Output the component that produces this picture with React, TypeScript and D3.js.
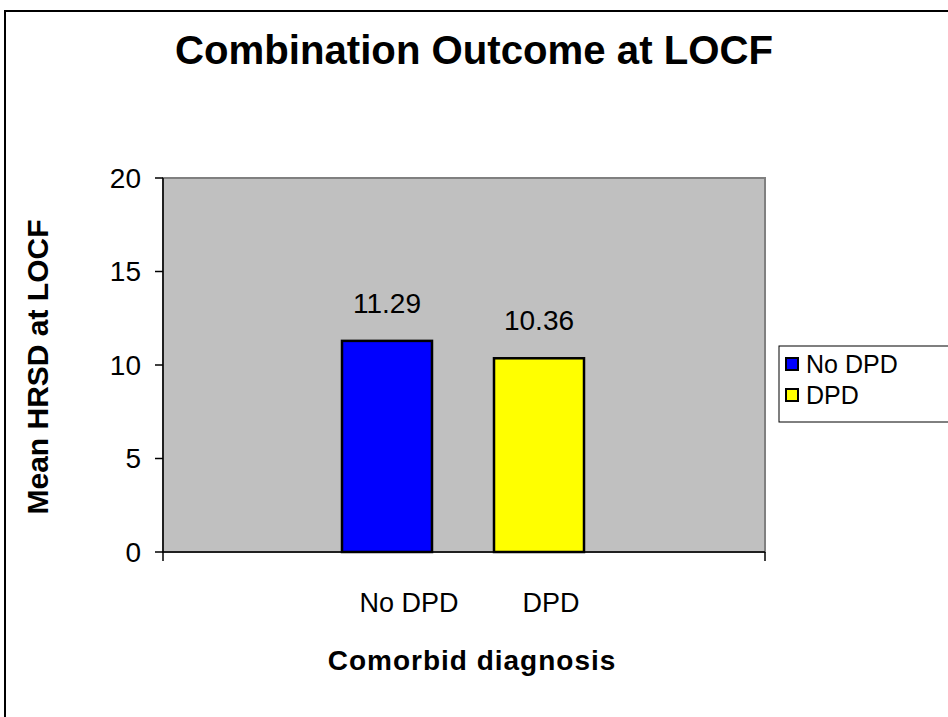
import React from "react";
import * as d3 from "d3";

const categories = ["No DPD", "DPD"];
const values = [11.29, 10.36];
const colors = ["#0000FF", "#FFFF00"];
const yTicks = [0, 5, 10, 15, 20];
const title = "Combination Outcome at LOCF";
const xTitle = "Comorbid diagnosis";
const yTitle = "Mean HRSD at LOCF";

const W = 948;
const H = 717;
const plot = { left: 163, right: 765, top: 178, bottom: 552 };
const font = "Arial, 'Liberation Sans', sans-serif";

export default function App() {
  const y = d3.scaleLinear().domain([0, 20]).range([plot.bottom, plot.top]);
  const x = d3.scalePoint<string>().domain(categories).range([387, 539]);
  const labelX = d3.scalePoint<string>().domain(categories).range([409, 551]);
  const barW = 90;

  return (
    <svg
      width={W}
      height={H}
      style={{ position: "absolute", left: 0, top: 0, background: "#fff" }}
      fontFamily={font}
    >
      <rect x={0} y={0} width={W} height={H} fill="#fff" />
      <rect x={5} y={11} width={W + 20} height={H + 20} fill="none" stroke="#000" strokeWidth={2} />
      <text x={474} y={64} textAnchor="middle" fontSize={40} fontWeight="bold" textLength={598} lengthAdjust="spacingAndGlyphs">
        {title}
      </text>
      <rect
        x={plot.left}
        y={plot.top}
        width={plot.right - plot.left}
        height={plot.bottom - plot.top}
        fill="#C0C0C0"
        stroke="#808080"
        strokeWidth={2}
      />
      <line x1={plot.left} x2={plot.left} y1={plot.top} y2={plot.bottom} stroke="#000" strokeWidth={1.5} />
      {yTicks.map((t) => (
        <g key={t}>
          <line x1={plot.left - 8} x2={plot.left} y1={y(t)} y2={y(t)} stroke="#000" strokeWidth={1.5} />
          <text x={141} y={y(t)} dy="0.35em" textAnchor="end" fontSize={28}>
            {t}
          </text>
        </g>
      ))}
      <line x1={plot.left} x2={plot.right} y1={plot.bottom} y2={plot.bottom} stroke="#000" strokeWidth={1.5} />
      <line x1={plot.left} x2={plot.left} y1={plot.bottom} y2={plot.bottom + 9} stroke="#000" strokeWidth={1.5} />
      <line x1={plot.right} x2={plot.right} y1={plot.bottom} y2={plot.bottom + 9} stroke="#000" strokeWidth={1.5} />
      {categories.map((c, i) => (
        <g key={c}>
          <rect
            x={(x(c) as number) - barW / 2}
            y={y(values[i])}
            width={barW}
            height={plot.bottom - y(values[i])}
            fill={colors[i]}
            stroke="#000"
            strokeWidth={2.5}
          />
          <text x={x(c)} y={y(values[i]) - 28} textAnchor="middle" fontSize={28}>
            {values[i].toFixed(2)}
          </text>
          <text x={labelX(c)} y={612} textAnchor="middle" fontSize={27}>
            {c}
          </text>
        </g>
      ))}
      <text x={472} y={670} textAnchor="middle" fontSize={28} fontWeight="bold" letterSpacing={1}>
        {xTitle}
      </text>
      <text
        transform={`translate(48,367) rotate(-90)`}
        textAnchor="middle"
        fontSize={30}
        fontWeight="bold"
      >
        {yTitle}
      </text>
      <rect x={779} y={346} width={200} height={76} fill="#fff" stroke="#000" strokeWidth={1} />
      {categories.map((c, i) => (
        <g key={"lg" + c}>
          <rect x={786} y={358 + i * 31} width={12} height={12} fill={colors[i]} stroke="#000" strokeWidth={2} />
          <text x={806} y={364 + i * 31} dy="0.36em" fontSize={25}>
            {c}
          </text>
        </g>
      ))}
    </svg>
  );
}
